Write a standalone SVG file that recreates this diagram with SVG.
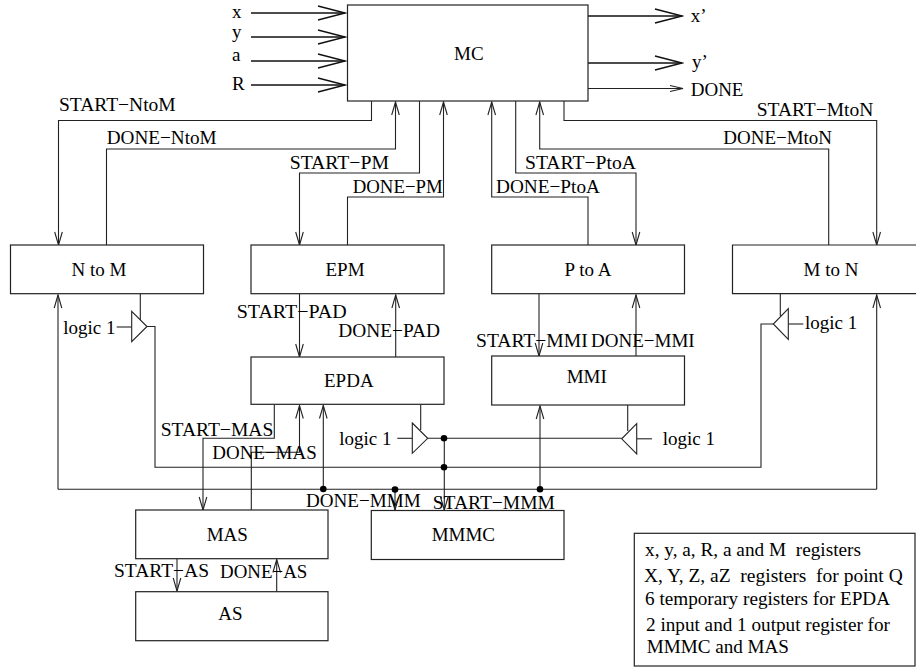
<svg xmlns="http://www.w3.org/2000/svg" width="916" height="668" viewBox="0 0 916 668">
<style>
text{font-family:"Liberation Serif","Times New Roman",serif;font-size:19px;fill:#000;white-space:pre}
.c{text-anchor:middle}
.box{fill:#fff;stroke:#222;stroke-width:1.2}
.w{fill:none;stroke:#222;stroke-width:1.1}
.wa{fill:none;stroke:#222;stroke-width:1.1;marker-end:url(#s)}
.big{fill:none;stroke:#111;stroke-width:1.4;marker-end:url(#b)}
.g{fill:#fff;stroke:#222;stroke-width:1.1}
.d{fill:#000}
</style>
<defs>
<marker id="s" markerUnits="userSpaceOnUse" markerWidth="16" markerHeight="10" refX="14" refY="5" orient="auto" viewBox="0 0 16 10"><path d="M1,1.2L14,5L1,8.8" fill="none" stroke="#222" stroke-width="1.1"/></marker>
<marker id="b" markerUnits="userSpaceOnUse" markerWidth="30" markerHeight="18" refX="28" refY="9" orient="auto" viewBox="0 0 30 18"><path d="M1,2L28,9L1,16" fill="none" stroke="#111" stroke-width="1.4"/></marker>
<marker id="m" markerUnits="userSpaceOnUse" markerWidth="16" markerHeight="10" refX="14" refY="5" orient="auto" viewBox="0 0 16 10"><path d="M1,2L14,5L1,8" fill="none" stroke="#222" stroke-width="1.1"/></marker>
</defs>
<g id="connectors">
<path class="big" d="M251,13H345"/>
<path class="big" d="M251,37H345"/>
<path class="big" d="M251,61H345"/>
<path class="big" d="M251,85H345"/>
<path class="big" d="M588,16H682"/>
<path class="big" d="M588,63H682"/>
<path class="w" d="M588,88.5H683" style="marker-end:url(#m)"/>
<path class="wa" d="M371.5,101V120.5H58.5V245"/>
<path class="wa" d="M106.5,245V149H395.5V102"/>
<path class="wa" d="M419.5,101V173H299.5V245"/>
<path class="wa" d="M347.5,245V197H443.5V102"/>
<path class="wa" d="M588,245V197H491.7V102"/>
<path class="wa" d="M515.7,101V173H636V245"/>
<path class="wa" d="M828.7,245V149H539.7V102"/>
<path class="wa" d="M564,101V120.5H876.7V245"/>
<path class="wa" d="M299.5,294V357"/>
<path class="wa" d="M395.7,357V295"/>
<path class="wa" d="M539,294V356"/>
<path class="wa" d="M636,356V295"/>
<path class="wa" d="M274.3,404.5V438.3H203V510"/>
<path class="wa" d="M251.3,510V452.3H299.5V405.5"/>
<path class="wa" d="M177,558.7V591"/>
<path class="wa" d="M276.7,591.7V559.5"/>
<path class="w" d="M58,489.3H876.7"/>
<path class="wa" d="M58,489.3V295"/>
<path class="wa" d="M876.7,489.3V295"/>
<path class="wa" d="M323.3,489.3V405.5"/>
<path class="wa" d="M540,489.3V406"/>
<path class="wa" d="M395,489.3V510"/>
<path class="wa" d="M444.3,438.3V510"/>
<path class="w" d="M140.3,294V320"/>
<path class="w" d="M116.7,327H131.7"/>
<path class="w" d="M147,326.5H155V467.3H761V324H773.3"/>
<path class="w" d="M780.3,294V316"/>
<path class="w" d="M788.3,324H803.3"/>
<path class="w" d="M420.7,404.5V430"/>
<path class="w" d="M397.3,438.3H412.3"/>
<path class="w" d="M427.7,438.3H621.7"/>
<path class="w" d="M627.7,405V431"/>
<path class="w" d="M636.7,438.8H652"/>
<circle class="d" cx="444" cy="438.3" r="3.3"/>
<circle class="d" cx="444" cy="467.3" r="3.3"/>
<circle class="d" cx="323.3" cy="489" r="3.3"/>
<circle class="d" cx="395" cy="489.5" r="3.3"/>
<circle class="d" cx="540" cy="489.3" r="3.3"/>
</g>
<g id="MC"><rect class="box" x="347.5" y="5" width="240.5" height="96"/><text x="454" y="60">MC</text></g>
<g id="NtoM"><rect class="box" x="10.5" y="245" width="193" height="48.7"/><text class="c" x="99" y="276">N to M</text></g>
<g id="EPM"><rect class="box" x="251" y="245" width="193" height="48.7"/><text class="c" x="345" y="276">EPM</text></g>
<g id="PtoA"><rect class="box" x="491.7" y="245" width="192.8" height="48.7"/><text class="c" x="588" y="276">P to A</text></g>
<g id="MtoN"><path class="box" d="M916,245H732.5V293.7H916"/><text class="c" x="831" y="276">M to N</text></g>
<g id="EPDA"><rect class="box" x="251" y="357" width="193" height="47.3"/><text x="324" y="386.7">EPDA</text></g>
<g id="MMI"><rect class="box" x="491.7" y="356" width="192.8" height="49"/><text x="566.7" y="382.7">MMI</text></g>
<g id="MAS"><rect class="box" x="135.7" y="510" width="192.3" height="48.7"/><text x="206.7" y="540.7">MAS</text></g>
<g id="MMMC"><rect class="box" x="371.3" y="510.5" width="192.7" height="49"/><text x="431.7" y="540.7">MMMC</text></g>
<g id="AS"><rect class="box" x="135.7" y="591.7" width="192.3" height="49"/><text x="218.3" y="620">AS</text></g>
<g id="gate-ntom"><path class="g" d="M131.7,311.3L147,326.5L131.7,341.7Z"/></g>
<g id="gate-mton"><path class="g" d="M788.3,308.7L773.3,324L788.3,339.3Z"/></g>
<g id="gate-epda"><path class="g" d="M412.3,423L427.7,438.3L412.3,453.3Z"/></g>
<g id="gate-mmi"><path class="g" d="M636.7,423.7L621.7,438.8L636.7,454Z"/></g>
<g id="labels">
<text x="232" y="18">x</text>
<text x="232" y="38">y</text>
<text x="232" y="61">a</text>
<text x="232" y="90">R</text>
<text x="690.7" y="22">x’</text>
<text x="692" y="68">y’</text>
<text x="690.7" y="96">DONE</text>
<text x="59" y="111" textLength="116.7" lengthAdjust="spacingAndGlyphs">START−NtoM</text>
<text x="106.7" y="144" textLength="110" lengthAdjust="spacingAndGlyphs">DONE−NtoM</text>
<text x="289.7" y="169" textLength="99.3" lengthAdjust="spacingAndGlyphs">START−PM</text>
<text x="352.7" y="192.7" textLength="90" lengthAdjust="spacingAndGlyphs">DONE−PM</text>
<text x="525" y="169" textLength="111" lengthAdjust="spacingAndGlyphs">START−PtoA</text>
<text x="496" y="192.7" textLength="104" lengthAdjust="spacingAndGlyphs">DONE−PtoA</text>
<text x="756.7" y="116" textLength="116.6" lengthAdjust="spacingAndGlyphs">START−MtoN</text>
<text x="723.3" y="144" textLength="108.7" lengthAdjust="spacingAndGlyphs">DONE−MtoN</text>
<text x="236.7" y="318.3" textLength="110" lengthAdjust="spacingAndGlyphs">START−PAD</text>
<text x="338.3" y="336.7" textLength="101.7" lengthAdjust="spacingAndGlyphs">DONE−PAD</text>
<text x="476" y="347" textLength="111.7" lengthAdjust="spacingAndGlyphs">START−MMI</text>
<text x="591" y="347" textLength="103.7" lengthAdjust="spacingAndGlyphs">DONE−MMI</text>
<text x="63.3" y="334">logic 1</text>
<text x="339.3" y="445">logic 1</text>
<text x="805" y="329">logic 1</text>
<text x="662.7" y="445">logic 1</text>
<text x="160.7" y="436" textLength="112.6" lengthAdjust="spacingAndGlyphs">START−MAS</text>
<text x="212.3" y="459.3" textLength="104.4" lengthAdjust="spacingAndGlyphs">DONE−MAS</text>
<text x="306" y="506.7" textLength="114.7" lengthAdjust="spacingAndGlyphs">DONE−MMM</text>
<text x="432.7" y="509.3" textLength="122.3" lengthAdjust="spacingAndGlyphs">START−MMM</text>
<text x="114" y="576.7" textLength="95" lengthAdjust="spacingAndGlyphs">START−AS</text>
<text x="220" y="578" textLength="87.3" lengthAdjust="spacingAndGlyphs">DONE−AS</text>
</g>
<g id="legend">
<rect class="box" x="634.3" y="533.3" width="280.7" height="132.7"/>
<text x="645" y="556" textLength="216" lengthAdjust="spacingAndGlyphs">x, y, a, R, a and M  registers</text>
<text x="644" y="582.3" textLength="258.7" lengthAdjust="spacingAndGlyphs">X, Y, Z, aZ  registers  for point Q</text>
<text x="645" y="605" textLength="245" lengthAdjust="spacingAndGlyphs">6 temporary registers for EPDA</text>
<text x="646" y="630.7" textLength="244" lengthAdjust="spacingAndGlyphs">2 input and 1 output register for</text>
<text x="646.7" y="653" textLength="142.3" lengthAdjust="spacingAndGlyphs">MMMC and MAS</text>
</g>
</svg>
